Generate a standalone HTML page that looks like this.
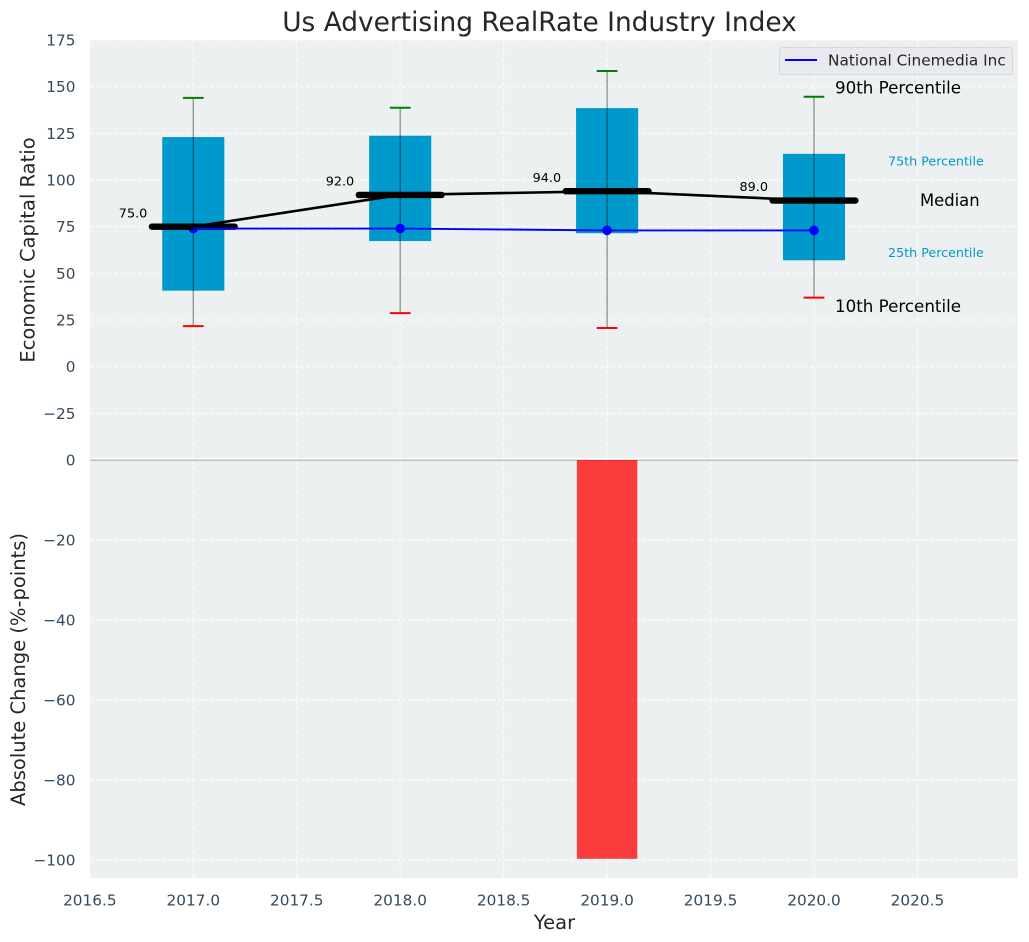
<!DOCTYPE html>
<html lang="en">
<head>
<meta charset="utf-8">
<title>Us Advertising RealRate Industry Index</title>
<style>
html,body{margin:0;padding:0;background:#fff;}
svg{display:block;font-family:"DejaVu Sans","Liberation Sans",sans-serif;}
</style>
</head>
<body>
<svg id="chart" xmlns="http://www.w3.org/2000/svg" width="1029" height="942" viewBox="0 0 1029 942">
  <rect x="90" y="40" width="928" height="420" fill="#ecf0f1"/>
  <rect x="90" y="460" width="928" height="418" fill="#ecf0f1"/>
  <g id="grid"></g>
  <g id="ticks"></g>
  <line x1="90" x2="1018" y1="458.6" y2="458.6" stroke="#ffffff" stroke-width="1.2"/>
  <line x1="90" x2="1018" y1="460.2" y2="460.2" stroke="#bdbfc0" stroke-width="1.5"/>
  <g id="bars"></g>
  <g id="boxes"></g>
  <g id="lines"></g>
  <g id="notes"></g>
  <text x="539.5" y="31" font-size="26.4" fill="#262626" text-anchor="middle">Us Advertising RealRate Industry Index</text>
  <text transform="translate(34.5 250) rotate(-90)" font-size="19.5" fill="#262626" text-anchor="middle">Economic Capital Ratio</text>
  <text transform="translate(25 669.5) rotate(-90)" font-size="19.5" fill="#262626" text-anchor="middle">Absolute Change (%-points)</text>
  <text x="554.5" y="929" font-size="19.5" fill="#262626" text-anchor="middle">Year</text>
  <g>
    <rect x="779.5" y="47.5" width="233" height="27" rx="3" fill="#e8eaf0" stroke="#d6d8dc" stroke-width="1"/>
    <line x1="785" x2="817" y1="60" y2="60" stroke="#0000ff" stroke-width="2"/>
    <text x="828" y="65.5" font-size="15.3" fill="#262626">National Cinemedia Inc</text>
  </g>
</svg>
<script>
var years = [2017, 2018, 2019, 2020];
var p10 = [21.7, 28.7, 20.7, 37];
var p25 = [40.7, 67.3, 71.5, 57];
var medians = [75, 92, 94, 89];
var p75 = [123, 123.7, 138.5, 114];
var p90 = [144, 138.7, 158.4, 144.6];
var company = [74, 74, 73, 73];
var changeYears = [2019];
var changeValues = [-99.7];
var xTicks = [2016.5, 2017, 2017.5, 2018, 2018.5, 2019, 2019.5, 2020, 2020.5];
var upperTicks = [175, 150, 125, 100, 75, 50, 25, 0, -25];
var lowerTicks = [0, -20, -40, -60, -80, -100];

var NS = 'http://www.w3.org/2000/svg';
function x(v) { return 193.3 + (v - 2017) * 206.9; }
function yUp(v) { return 366.67 - v * 1.8667; }
function yLow(v) { return 460 - v * 4; }
function make(parent, tag, attrs, text) {
  var el = document.createElementNS(NS, tag);
  for (var k in attrs) el.setAttribute(k, attrs[k]);
  if (text !== undefined) el.textContent = text;
  parent.appendChild(el);
  return el;
}
function label(v) { return String(v).replace('-', '\u2212'); }

var grid = document.getElementById('grid');
var ticks = document.getElementById('ticks');
var bars = document.getElementById('bars');
var boxes = document.getElementById('boxes');
var lines = document.getElementById('lines');
var notes = document.getElementById('notes');
var gridStyle = { stroke: '#ffffff', 'stroke-opacity': 0.85, 'stroke-width': 1.1, 'stroke-dasharray': '4 2', fill: 'none' };

xTicks.forEach(function (t) {
  var g = make(grid, 'line', Object.assign({ x1: x(t), x2: x(t), y1: 40, y2: 878 }, gridStyle));
  
  
  var l = make(ticks, 'text', { x: x(t), y: 905.5, 'font-size': 15.3, fill: '#34495e', 'text-anchor': 'middle' }, t.toFixed(1));
  
  
});
upperTicks.forEach(function (t) {
  var g = make(grid, 'line', Object.assign({ x1: 90, x2: 1018, y1: yUp(t), y2: yUp(t) }, gridStyle));
  
  
  var l = make(ticks, 'text', { x: 75.5, y: yUp(t) + 5.5, 'font-size': 15.3, fill: '#34495e', 'text-anchor': 'end' }, label(t));
  
  
});
lowerTicks.forEach(function (t) {
  if (t !== 0) {
    var g = make(grid, 'line', Object.assign({ x1: 90, x2: 1018, y1: yLow(t), y2: yLow(t) }, gridStyle));
    
    
  }
  var l = make(ticks, 'text', { x: 75.5, y: yLow(t) + 5.5, 'font-size': 15.3, fill: '#34495e', 'text-anchor': 'end' }, label(t));
  
  
});

changeYears.forEach(function (yr, i) {
  var v = changeValues[i];
  var b = make(bars, 'rect', {
    x: x(yr - 0.146), width: x(yr + 0.146) - x(yr - 0.146),
    y: Math.min(yLow(0), yLow(v)), height: Math.abs(yLow(v) - yLow(0)),
    fill: v < 0 ? '#ff0000' : '#008000', 'fill-opacity': 0.75
  });
  
  
});

years.forEach(function (yr, i) {
  var b = make(boxes, 'rect', {
    x: x(yr - 0.15), width: x(yr + 0.15) - x(yr - 0.15),
    y: yUp(p75[i]), height: yUp(p25[i]) - yUp(p75[i]),
    fill: '#0099cc'
  });
  
  
  var w = make(boxes, 'line', {
    x1: x(yr), x2: x(yr), y1: yUp(p90[i]), y2: yUp(p10[i]),
    stroke: '#000000', 'stroke-opacity': 0.42, 'stroke-width': 1.3
  });
  
  
  var hi = make(boxes, 'line', {
    x1: x(yr - 0.05), x2: x(yr + 0.05), y1: yUp(p90[i]), y2: yUp(p90[i]),
    stroke: '#008000', 'stroke-width': 2
  });
  
  
  var lo = make(boxes, 'line', {
    x1: x(yr - 0.05), x2: x(yr + 0.05), y1: yUp(p10[i]), y2: yUp(p10[i]),
    stroke: '#ff0000', 'stroke-width': 2
  });
  
  
  var dot = make(boxes, 'circle', { cx: x(yr), cy: yUp(company[i]), r: 4.8, fill: '#0000ff' });
  
  
});

var trend = make(lines, 'polyline', {
  points: years.map(function (yr, i) { return x(yr) + ',' + yUp(medians[i]); }).join(' '),
  fill: 'none', stroke: '#000000', 'stroke-width': 2.6
});



years.forEach(function (yr, i) {
  var m = make(lines, 'line', {
    x1: x(yr - 0.2), x2: x(yr + 0.2), y1: yUp(medians[i]), y2: yUp(medians[i]),
    stroke: '#000000', 'stroke-width': 6.4, 'stroke-linecap': 'round'
  });
  
  
  var t = make(notes, 'text', {
    x: x(yr) - 74.5, y: yUp(medians[i]) - 9.3, 'font-size': 12.8, fill: '#000000'
  }, medians[i].toFixed(1));
  
  
});

var companyLine = make(lines, 'polyline', {
  points: years.map(function (yr, i) { return x(yr) + ',' + yUp(company[i]); }).join(' '),
  fill: 'none', stroke: '#0000ff', 'stroke-width': 1.9
});



var last = years.length - 1;
var lastX = x(years[last]);
var n90 = make(notes, 'text', { x: lastX + 21, y: yUp(p90[last]) - 3, 'font-size': 16.7, fill: '#000000' }, '90th Percentile');


var n75 = make(notes, 'text', { x: lastX + 74, y: yUp(p75[last]) + 11.5, 'font-size': 12.7, fill: '#0099cc' }, '75th Percentile');


var nMed = make(notes, 'text', { x: lastX + 106, y: yUp(medians[last]) + 5.5, 'font-size': 16.4, fill: '#000000' }, 'Median');


var n25 = make(notes, 'text', { x: lastX + 74, y: yUp(p25[last]) - 3.5, 'font-size': 12.7, fill: '#0099cc' }, '25th Percentile');


var n10 = make(notes, 'text', { x: lastX + 21, y: yUp(p10[last]) + 14.5, 'font-size': 16.7, fill: '#000000' }, '10th Percentile');


</script>
</body>
</html>
